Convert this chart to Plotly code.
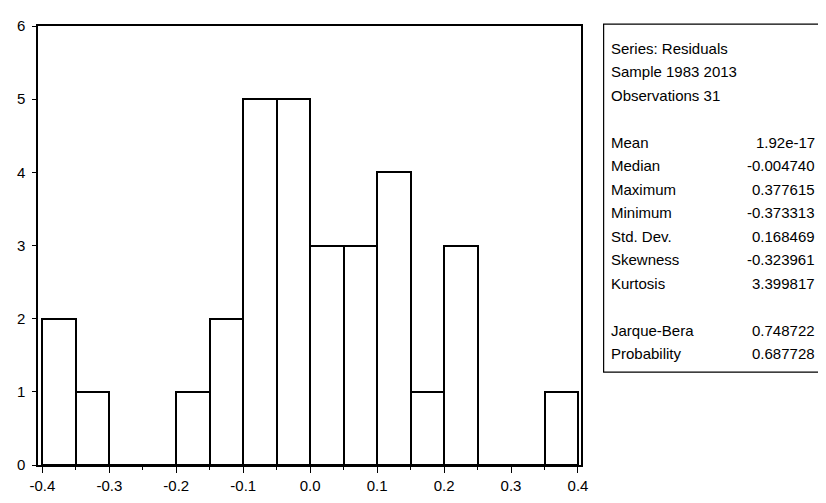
import plotly.graph_objects as go

# Histogram data (bin width 0.05)
bin_left = [-0.40, -0.35, -0.30, -0.25, -0.20, -0.15, -0.10, -0.05,
            0.00, 0.05, 0.10, 0.15, 0.20, 0.25, 0.30, 0.35]
counts = [2, 1, 0, 0, 1, 2, 5, 5, 3, 3, 4, 1, 3, 0, 0, 1]
bin_width = 0.05

x_ticks = [-0.4, -0.3, -0.2, -0.1, 0.0, 0.1, 0.2, 0.3, 0.4]
x_tick_labels = ["-0.4", "-0.3", "-0.2", "-0.1", "0.0", "0.1", "0.2", "0.3", "0.4"]
x_minor_ticks = [-0.35, -0.25, -0.15, -0.05, 0.05, 0.15, 0.25, 0.35]
y_ticks = [0, 1, 2, 3, 4, 5, 6]

header_lines = ["Series: Residuals", "Sample 1983 2013", "Observations 31"]
stat_names = ["Mean", "Median", "Maximum", "Minimum", "Std. Dev.", "Skewness", "Kurtosis"]
stat_values = ["1.92e-17", "-0.004740", "0.377615", "-0.373313", "0.168469", "-0.323961", "3.399817"]
test_names = ["Jarque-Bera", "Probability"]
test_values = ["0.748722", "0.687728"]

OFF = 8  # page body margin
W, H = 826 - OFF, 503 - OFF
L, R, T, B = 29, 581, 17, 466  # plot area in page pixels

def px(x):
    return (x - L) / (R - L)

def py(y):
    return (B - y) / (B - T)

FONT = "Liberation Sans, Arial, Helvetica, sans-serif"

centers = [b + bin_width / 2 for b in bin_left]

fig = go.Figure(go.Bar(
    x=centers, y=counts, width=[bin_width] * len(counts),
    marker=dict(color="white", line=dict(color="black", width=2)),
    hoverinfo="skip",
))

fig.update_layout(
    width=W, height=H,
    margin=dict(l=L - OFF, r=(W + OFF) - R, t=T - OFF, b=(H + OFF) - B, pad=0),
    paper_bgcolor="white", plot_bgcolor="white",
    showlegend=False, bargap=0,
    font=dict(family=FONT, size=15, color="black"),
)

fig.update_xaxes(
    range=[-0.4065, 0.4045], tickvals=x_ticks, ticktext=x_tick_labels,
    ticks="outside", ticklen=6, tickwidth=1, tickcolor="black",
    minor=dict(tickvals=x_minor_ticks, ticks="outside", ticklen=3, tickcolor="black"),
    showline=True, linecolor="black", linewidth=1.5, mirror=True,
    showgrid=False, zeroline=False,
    tickfont=dict(family=FONT, size=15),
)
fig.update_yaxes(
    range=[0, 6], tickvals=y_ticks,
    ticks="outside", ticklen=4, tickwidth=1, tickcolor="black",
    ticklabelstandoff=4,
    showline=True, linecolor="black", linewidth=1.5, mirror=True,
    showgrid=False, zeroline=False,
    tickfont=dict(family=FONT, size=15),
)

# Stats box (extends past the right edge of the picture, as in the original)
fig.add_shape(type="rect", xref="paper", yref="paper",
              x0=px(604), x1=px(840), y0=py(371), y1=py(15),
              line=dict(color="black", width=1.2), fillcolor="white")

row_h = 24
y0 = 40
text_x = 609
val_x = 821

rows = []
for i, t in enumerate(header_lines):
    rows.append((y0 + i * row_h, t, None))
for i, (n, v) in enumerate(zip(stat_names, stat_values)):
    rows.append((y0 + (4 + i) * row_h, n, v))
for i, (n, v) in enumerate(zip(test_names, test_values)):
    rows.append((y0 + (12 + i) * row_h, n, v))

for yy, name, val in rows:
    fig.add_annotation(xref="paper", yref="paper", x=px(text_x), y=py(yy),
                       text=name, showarrow=False, xanchor="left", yanchor="middle",
                       font=dict(family=FONT, size=15, color="black"))
    if val is not None:
        fig.add_annotation(xref="paper", yref="paper", x=px(val_x), y=py(yy),
                           text=val, showarrow=False, xanchor="right", yanchor="middle",
                           font=dict(family=FONT, size=15, color="black"))

fig.write_html("out.html")
